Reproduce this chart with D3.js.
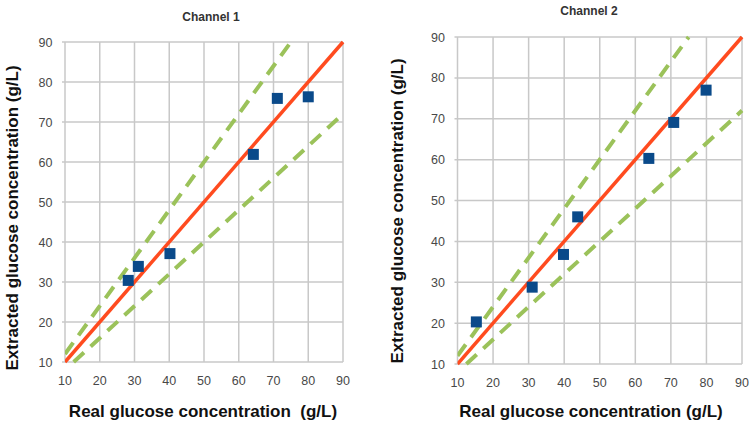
<!DOCTYPE html>
<html>
<head>
<meta charset="utf-8">
<script src="https://cdn.jsdelivr.net/npm/d3@7"></script>
<style>
  body { margin: 0; background: #fff; }
  svg { display: block; font-family: "Liberation Sans", Arial, sans-serif; }
</style>
</head>
<body>
<div id="chart"></div>
<script>
var ticks = [10, 20, 30, 40, 50, 60, 70, 80, 90];
var ch1Real = [28.2, 31.1, 40.2, 64.2, 71.1, 80.0];
var ch1Extracted = [30.4, 33.9, 37.1, 61.9, 75.9, 76.3];
var ch2Real = [15.3, 31.0, 39.8, 43.8, 63.8, 70.8, 79.9];
var ch2Extracted = [20.3, 28.8, 36.8, 46.0, 60.3, 69.1, 77.0];
// reference lines: identity and +/-20% band
var idealX = [10, 90];
var upperX = [10, 75];
var lowerX = [12.5, 90];

var svg = d3.select('#chart').append('svg')
  .attr('width', 751)
  .attr('height', 423);

function drawPanel (cfg) {
  var x = d3.scaleLinear().domain([10, 90]).range([cfg.left, cfg.right]);
  var y = d3.scaleLinear().domain([10, 90]).range([cfg.bottom, cfg.top]);
  var g = svg.append('g');

  g.append('defs').append('clipPath').attr('id', 'clip-' + cfg.id)
    .append('rect')
    .attr('x', cfg.left).attr('y', cfg.top - 2)
    .attr('width', cfg.right - cfg.left + 2)
    .attr('height', cfg.bottom - cfg.top + 4);

  // grid
  g.selectAll('.vgrid').data(ticks).enter().append('line')
    .attr('x1', function (d) { return x(d); })
    .attr('x2', function (d) { return x(d); })
    .attr('y1', cfg.top).attr('y2', cfg.bottom)
    .attr('stroke', '#c8c8c8').attr('stroke-width', 1.5);
  g.selectAll('.hgrid').data(ticks).enter().append('line')
    .attr('x1', cfg.left - 3).attr('x2', cfg.right)
    .attr('y1', function (d) { return y(d); })
    .attr('y2', function (d) { return y(d); })
    .attr('stroke', '#c8c8c8').attr('stroke-width', 1.5);

  // tick labels
  g.selectAll('.xlab').data(ticks).enter().append('text')
    .attr('x', function (d) { return x(d); })
    .attr('y', cfg.bottom + 23)
    .attr('text-anchor', 'middle')
    .attr('font-size', 12.5).attr('fill', '#484848')
    .text(function (d) { return d; });
  g.selectAll('.ylab').data(ticks).enter().append('text')
    .attr('x', cfg.left - 12.5)
    .attr('y', function (d) { return y(d) + 4.5; })
    .attr('text-anchor', 'end')
    .attr('font-size', 12.5).attr('fill', '#484848')
    .text(function (d) { return d; });

  var line = d3.line()
    .x(function (d) { return x(d[0]); })
    .y(function (d) { return y(d[1]); });

  var lines = g.append('g').attr('clip-path', 'url(#clip-' + cfg.id + ')');
  lines.append('path')
    .attr('d', line(upperX.map(function (v) { return [v, v * 1.2]; })))
    .attr('fill', 'none').attr('stroke', '#9bc25a')
    .attr('stroke-width', 4).attr('stroke-dasharray', '14,9');
  lines.append('path')
    .attr('d', line(lowerX.map(function (v) { return [v, v * 0.8]; })))
    .attr('fill', 'none').attr('stroke', '#9bc25a')
    .attr('stroke-width', 4).attr('stroke-dasharray', '14,9');
  lines.append('path')
    .attr('d', line(idealX.map(function (v) { return [v, v]; })))
    .attr('fill', 'none').attr('stroke', '#ff4b1f')
    .attr('stroke-width', 3.5);

  var s = 11;
  g.selectAll('.pt').data(cfg.real).enter().append('rect')
    .attr('x', function (d) { return x(d) - s / 2; })
    .attr('y', function (d, i) { return y(cfg.extracted[i]) - s / 2; })
    .attr('width', s).attr('height', s)
    .attr('fill', '#0a4a8a');

  g.append('text')
    .attr('x', cfg.titleX).attr('y', cfg.titleY)
    .attr('text-anchor', 'middle')
    .attr('font-size', 12).attr('font-weight', 'bold').attr('fill', '#333')
    .text(cfg.title);

  g.append('text')
    .attr('transform', 'translate(' + cfg.yTitleX + ',' + cfg.yTitleY + ') rotate(-90)')
    .attr('text-anchor', 'middle')
    .attr('font-size', 17).attr('font-weight', 'bold').attr('fill', '#111')
    .text('Extracted glucose concentration (g/L)');

  g.append('text')
    .attr('x', cfg.xTitleX).attr('y', cfg.xTitleY)
    .attr('text-anchor', 'middle')
    .attr('font-size', 17).attr('font-weight', 'bold').attr('fill', '#111')
    .attr('xml:space', 'preserve')
    .text(cfg.xTitle);
}

drawPanel({
  id: 1, left: 65, right: 343, top: 42, bottom: 362,
  real: ch1Real, extracted: ch1Extracted,
  title: 'Channel 1', titleX: 211, titleY: 21,
  yTitleX: 18, yTitleY: 218,
  xTitle: 'Real glucose concentration  (g/L)', xTitleX: 203, xTitleY: 417
});

drawPanel({
  id: 2, left: 457.5, right: 742, top: 37, bottom: 364,
  real: ch2Real, extracted: ch2Extracted,
  title: 'Channel 2', titleX: 589, titleY: 15,
  yTitleX: 403, yTitleY: 211,
  xTitle: 'Real glucose concentration (g/L)', xTitleX: 591, xTitleY: 417
});
</script>
</body>
</html>
